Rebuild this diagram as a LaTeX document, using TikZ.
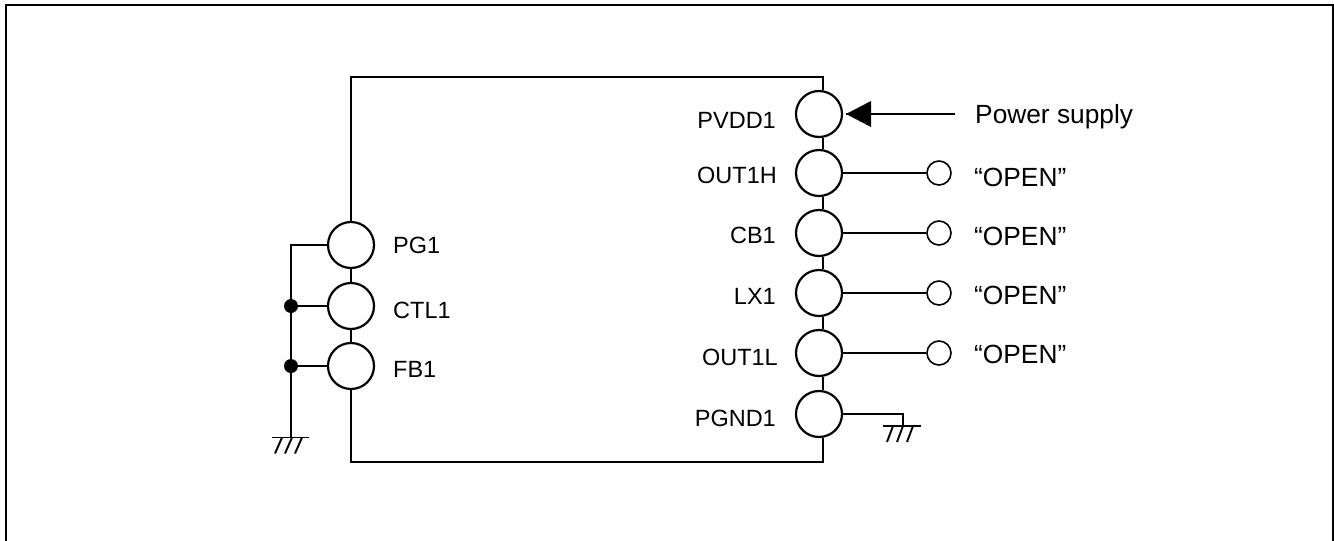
\documentclass[tikz,border=0pt]{standalone}
\usepackage{fontspec}
\setmainfont{Liberation Sans}
\tikzset{
  pin/.style={draw, circle, line width=2.2pt, minimum size=46pt, inner sep=0pt},
  opn/.style={draw, circle, line width=1.6pt, minimum size=24pt, inner sep=0pt},
  dot/.style={fill=black, circle, minimum size=14pt, inner sep=0pt},
  lbl/.style={font=\fontsize{23.5}{26}\selectfont, inner sep=0pt},
  big/.style={font=\fontsize{26.3}{28}\selectfont, inner sep=0pt},
  wire/.style={line width=2.2pt},
  hatch/.style={line width=1.9pt}
}
\begin{document}
\begin{tikzpicture}[x=1pt, y=-1pt]
\useasboundingbox (0,0) rectangle (1334,541);
\coordinate (fbl) at (6,541);
\coordinate (ftl) at (6,5);
\coordinate (ftr) at (1333,5);
\coordinate (fbr) at (1333,541);
\draw [line width=2pt] (fbl) -- (ftl) -- (ftr) -- (fbr);
\node [pin] (pg1) at (351,245) {};
\node [pin] (ctl1) at (351,306) {};
\node [pin] (fb1) at (351,366) {};
\node [pin] (pvdd1) at (819,114) {};
\node [pin] (out1h) at (819,173) {};
\node [pin] (cb1) at (819,233) {};
\node [pin] (lx1) at (819,293) {};
\node [pin] (out1l) at (819,353) {};
\node [pin] (pgnd1) at (819,414) {};
\node [opn] (o1) at (939,173) {};
\node [opn] (o2) at (939,233) {};
\node [opn] (o3) at (939,293) {};
\node [opn] (o4) at (939,353) {};
\node [lbl, anchor=base west] (lpg1) at (393,253) {PG1};
\node [lbl, anchor=base west] (lctl1) at (393,318) {CTL1};
\node [lbl, anchor=base west] (lfb1) at (393,377) {FB1};
\node [lbl, anchor=base east] (lpvdd1) at (776,128) {PVDD1};
\node [lbl, anchor=base east] (lout1h) at (777,183) {OUT1H};
\node [lbl, anchor=base east] (lcb1) at (776,243) {CB1};
\node [lbl, anchor=base east] (llx1) at (776,304) {LX1};
\node [lbl, anchor=base east] (lout1l) at (778,365) {OUT1L};
\node [lbl, anchor=base east] (lpgnd1) at (776,426) {PGND1};
\node [big, anchor=base west] (lpower) at (975,123) {Power supply};
\node [big, anchor=base west] (lo1) at (974,186) {“OPEN”};
\node [big, anchor=base west] (lo2) at (974,245) {“OPEN”};
\node [big, anchor=base west] (lo3) at (974,304) {“OPEN”};
\node [big, anchor=base west] (lo4) at (974,363) {“OPEN”};
\coordinate (tr) at (823,77);
\coordinate (br) at (823,462);
\coordinate (bus) at (291,245);
\coordinate (gl) at (291,437.5);
\coordinate (gr) at (903,426);
\coordinate (psrc) at (955,114);
\coordinate (atip) at (846,114);
\node [dot] (d1) at (bus |- ctl1) {};
\node [dot] (d2) at (bus |- fb1) {};
\draw [wire] (pg1.north) |- (tr) -- (tr |- pvdd1.north);
\draw [wire] (fb1.south) |- (br) -- (br |- pgnd1.south);
\draw [wire] (pg1) -- (ctl1);
\draw [wire] (ctl1) -- (fb1);
\draw [wire] (tr |- pvdd1.south) -- (tr |- out1h.north);
\draw [wire] (tr |- out1h.south) -- (tr |- cb1.north);
\draw [wire] (tr |- cb1.south) -- (tr |- lx1.north);
\draw [wire] (tr |- lx1.south) -- (tr |- out1l.north);
\draw [wire] (tr |- out1l.south) -- (tr |- pgnd1.north);
\draw [wire] (pg1) -- (bus) -- (gl);
\draw [wire] (ctl1) -- (d1);
\draw [wire] (fb1) -- (d2);
\draw [wire] (out1h) -- (o1);
\draw [wire] (cb1) -- (o2);
\draw [wire] (lx1) -- (o3);
\draw [wire] (out1l) -- (o4);
\draw [wire] (pgnd1) -| (gr);
\draw [wire] (psrc) -- (atip);
\fill (atip) -- ++(25,-13) -- ++(0,26) -- cycle;
\draw [hatch] (gl) ++(-19,0) -- ++(37,0);
\draw [hatch] (gl) ++(-9,0) -- ++(-7,16);
\draw [hatch] (gl) ++(1,0) -- ++(-7,16);
\draw [hatch] (gl) ++(11,0) -- ++(-7,16);
\draw [hatch] (gr) ++(-20,0) -- ++(38,0);
\draw [hatch] (gr) ++(-10,0) -- ++(-6,16);
\draw [hatch] (gr) ++(0,0) -- ++(-6,16);
\draw [hatch] (gr) ++(10,0) -- ++(-6,16);
\end{tikzpicture}
\end{document}
